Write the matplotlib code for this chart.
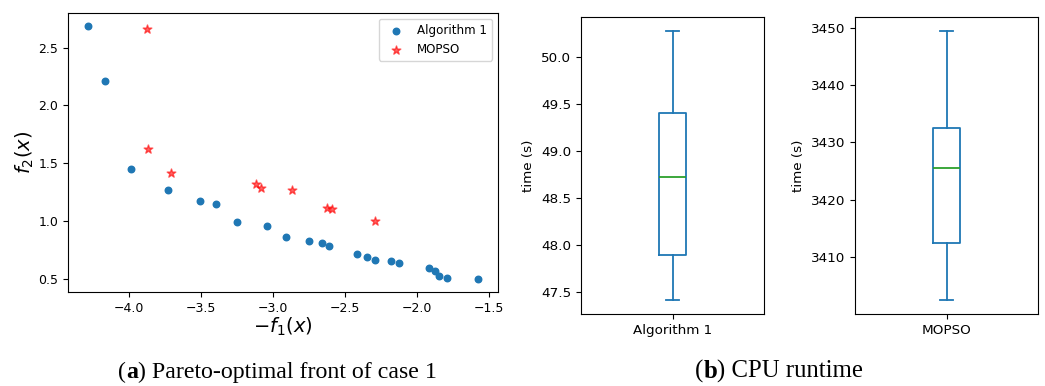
import matplotlib
matplotlib.use("Agg")
import matplotlib.pyplot as plt

# Pareto front
alg_x = [-4.29, -4.17, -3.99, -3.73, -3.51, -3.40, -3.25, -3.04, -2.91, -2.75, -2.66,
         -2.61, -2.42, -2.345, -2.29, -2.18, -2.125, -1.92, -1.875, -1.845, -1.796, -1.574]
alg_y = [2.69, 2.21, 1.45, 1.27, 1.17, 1.15, 0.99, 0.955, 0.865, 0.83, 0.81,
         0.785, 0.72, 0.687, 0.667, 0.655, 0.638, 0.598, 0.57, 0.526, 0.509, 0.497]
mopso_x = [-3.88, -3.87, -3.71, -3.12, -3.083, -2.87, -2.625, -2.595, -2.294]
mopso_y = [2.66, 1.628, 1.418, 1.32, 1.286, 1.268, 1.116, 1.107, 0.998]

# CPU runtime box stats: whislo, q1, med, q3, whishi
box_labels = ["Algorithm 1", "MOPSO"]
alg_box = [47.41, 47.89, 48.727, 49.40, 50.28]
mopso_box = [3402.37, 3412.45, 3425.43, 3432.53, 3449.53]

fig = plt.figure(figsize=(10.45, 3.86), dpi=100)

# (a) scatter
ax0 = fig.add_axes([68/1045, 1-292/386, 430/1045, 279/386])
ax0.scatter(alg_x, alg_y, s=22, color="#1f77b4", label="Algorithm 1")
ax0.scatter(mopso_x, mopso_y, s=42, marker="*", color="red", alpha=0.6, label="MOPSO")
ax0.set_xlabel("$-f_1(x)$", fontsize=14, labelpad=1)
ax0.set_ylabel("$f_2(x)$", fontsize=14, labelpad=2)
ax0.tick_params(labelsize=9)
ax0.legend(loc="upper right", fontsize=8.6)

# (b) box plots
blue = "#1f77b4"
green = "#2ca02c"
lw = 1.3
for i, (vals, lab) in enumerate(zip([alg_box, mopso_box], box_labels)):
    left = [581, 855][i]
    ax = fig.add_axes([left/1045, 1-314/386, 183/1045, 297/386])
    st = dict(whislo=vals[0], q1=vals[1], med=vals[2], q3=vals[3], whishi=vals[4],
              fliers=[], label=lab)
    ax.bxp([st], widths=0.15, showfliers=False,
           boxprops=dict(color=blue, linewidth=lw), whiskerprops=dict(color=blue, linewidth=lw),
           capprops=dict(color=blue, linewidth=lw), medianprops=dict(color=green, linewidth=lw))
    ax.set_xlim(0.5, 1.5)
    ax.set_ylabel("time (s)", fontsize=9.7)
    ax.tick_params(labelsize=9.7)

# captions with bold letters
def caption(x, letter, rest, size):
    t1 = fig.text(x, 8/386, "(", fontsize=size, family="Liberation Serif", va="baseline")
    t2 = ax0.annotate(letter, xy=(1, 0), xycoords=t1, fontsize=size, family="Liberation Serif",
                      weight="bold", va="bottom", ha="left", annotation_clip=False)
    ax0.annotate(rest, xy=(1, 0), xycoords=t2, fontsize=size, family="Liberation Serif",
                 va="bottom", ha="left", annotation_clip=False)

caption(118/1045, "a", ") Pareto-optimal front of case 1", 17.2)
caption(695/1045, "b", ") CPU runtime", 17.8)

fig.savefig("out.png", dpi=100)
